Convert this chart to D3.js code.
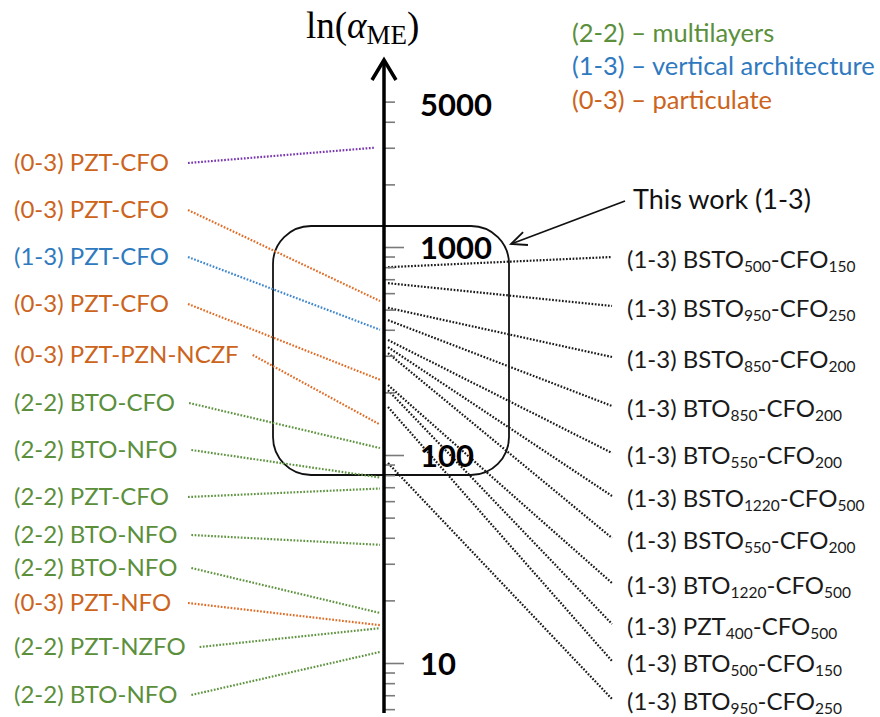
<!DOCTYPE html>
<html>
<head>
<meta charset="utf-8">
<script src="https://cdn.jsdelivr.net/npm/d3@7"></script>
<style>
  html, body { margin: 0; padding: 0; background: #fff; }
  svg { display: block; }
</style>
</head>
<body>
<svg id="chart" width="880" height="717"></svg>
<script>
// ---------------- DATA ----------------
const leftLabels = [
  "(0-3) PZT-CFO", "(0-3) PZT-CFO", "(1-3) PZT-CFO", "(0-3) PZT-CFO",
  "(0-3) PZT-PZN-NCZF", "(2-2) BTO-CFO", "(2-2) BTO-NFO", "(2-2) PZT-CFO",
  "(2-2) BTO-NFO", "(2-2) BTO-NFO", "(0-3) PZT-NFO", "(2-2) PZT-NZFO",
  "(2-2) BTO-NFO"
];
const leftTypes = ["0-3", "0-3", "1-3", "0-3", "0-3", "2-2", "2-2", "2-2", "2-2", "2-2", "0-3", "2-2", "2-2"];
const leftLineTypes = ["other", "0-3", "1-3", "0-3", "0-3", "2-2", "2-2", "2-2", "2-2", "2-2", "0-3", "2-2", "2-2"];
const leftValues = [3000, 550, 400, 230, 140, 108, 78, 69, 37, 17.4, 15.2, 14.7, 11.3];

const rightLabels = [
  "(1-3) BSTO_{500}-CFO_{150}", "(1-3) BSTO_{950}-CFO_{250}", "(1-3) BSTO_{850}-CFO_{200}",
  "(1-3) BTO_{850}-CFO_{200}", "(1-3) BTO_{550}-CFO_{200}", "(1-3) BSTO_{1220}-CFO_{500}",
  "(1-3) BSTO_{550}-CFO_{200}", "(1-3) BTO_{1220}-CFO_{500}", "(1-3) PZT_{400}-CFO_{500}",
  "(1-3) BTO_{500}-CFO_{150}", "(1-3) BTO_{950}-CFO_{250}"
];
const rightValues = [800, 670, 510, 445, 357, 330, 309, 217, 205, 170, 91.5];

const majorTicks = [10, 100, 1000];
const minorTicks = [6, 7, 8, 9, 20, 30, 40, 50, 60, 70, 80, 90,
                    200, 300, 400, 500, 600, 700, 800, 900, 2000, 3000, 4000, 5000];
const tickLabels = [10, 100, 1000, 5000];

const legendTypes = ["2-2", "1-3", "0-3"];
const legendTexts = ["(2-2) \u2013 multilayers", "(1-3) \u2013 vertical architecture", "(0-3) \u2013 particulate"];

// ---------------- LAYOUT / STYLE ----------------
const textColor = { "2-2": "#5b8f3b", "1-3": "#2f7abf", "0-3": "#cc6420" };
const lineColor = { "2-2": "#5e9440", "1-3": "#3f86cc", "0-3": "#e06c26", "other": "#7a35b0" };
const leftLabelY = [163, 210, 257, 304, 355, 403, 450, 497, 535, 568, 603, 647, 695];
const rightLabelY = [257, 306, 357, 406, 453, 496, 538, 583, 624, 661, 699];
const axisX = 384;
const font = "Lato, 'Open Sans', sans-serif";

const svg = d3.select("#chart");
const y = d3.scaleLog().domain([10, 1000]).range([663, 247]);

// Box ("This work")
svg.append("rect")
  .attr("x", 273).attr("y", 226).attr("width", 236).attr("height", 249)
  .attr("rx", 38).attr("ry", 38)
  .attr("fill", "none").attr("stroke", "#111").attr("stroke-width", 1.8);

// Left dotted lines + labels
const leftG = svg.append("g");
leftLabels.forEach((lab, i) => {
  const t = leftG.append("text")
    .attr("x", 14).attr("y", leftLabelY[i]).attr("dy", "0.35em")
    .attr("font-family", font).attr("font-size", 24)
    .attr("fill", textColor[leftTypes[i]])
    .text(lab);
  const end = 14 + t.node().getComputedTextLength();
  const x0 = Math.max(188, end + 14);
  leftG.append("line")
    .attr("x1", x0).attr("y1", leftLabelY[i])
    .attr("x2", leftLineTypes[i] === "other" ? 374 : 380).attr("y2", y(leftValues[i]))
    .attr("stroke", lineColor[leftLineTypes[i]])
    .attr("stroke-width", 2.2).attr("stroke-dasharray", "1.7,1.6");
});

// Right dotted lines + labels
const rightG = svg.append("g");
rightLabels.forEach((lab, i) => {
  rightG.append("line")
    .attr("x1", 388).attr("y1", y(rightValues[i]))
    .attr("x2", 612).attr("y2", rightLabelY[i])
    .attr("stroke", "#1a1a1a")
    .attr("stroke-width", 2.2).attr("stroke-dasharray", "1.7,1.6");
  const t = rightG.append("text")
    .attr("x", 627).attr("y", rightLabelY[i] + 3).attr("dy", "0.35em")
    .attr("font-family", font).attr("font-size", 24).attr("fill", "#1a1a1a");
  const parts = lab.split(/(_\{[^}]*\})/).filter(s => s.length);
  parts.forEach(p => {
    if (p.startsWith("_{")) {
      t.append("tspan").attr("font-size", 15.5).attr("dy", 4).text(p.slice(2, -1));
    } else {
      const ts = t.append("tspan").text(p);
      if (t.selectAll("tspan").size() > 1) ts.attr("dy", -4);
    }
  });
});

// Axis ticks
const minorAxis = d3.axisRight(y).tickValues(minorTicks).tickSize(11).tickFormat("");
const majorAxis = d3.axisRight(y).tickValues(majorTicks).tickSize(20).tickFormat("");
[minorAxis, majorAxis].forEach(ax => {
  const g = svg.append("g").attr("transform", `translate(${axisX},0)`).call(ax);
  g.select(".domain").remove();
  g.selectAll(".tick line").attr("stroke", "#7a7a7a").attr("stroke-width", 1.6);
});

// Axis line with arrow
svg.append("line")
  .attr("x1", axisX).attr("y1", 713).attr("x2", axisX).attr("y2", 60)
  .attr("stroke", "#000").attr("stroke-width", 3.5);
svg.append("path")
  .attr("d", `M${axisX - 12},80 L${axisX},60 L${axisX + 12},80`)
  .attr("fill", "none").attr("stroke", "#000").attr("stroke-width", 3.5)
  .attr("stroke-linejoin", "miter");

// Tick labels
svg.append("g").selectAll("text").data(tickLabels).join("text")
  .attr("x", 420).attr("y", d => y(d) + (d === 5000 ? 3 : 1)).attr("dy", "0.36em")
  .attr("font-family", font).attr("font-weight", "bold").attr("font-size", 31)
  .attr("fill", "#000")
  .text(d => d);

// Axis title ln(α_ME)
const title = svg.append("text")
  .attr("x", 306).attr("y", 38)
  .attr("font-family", "'Liberation Serif', 'DejaVu Serif', serif")
  .attr("font-size", 37).attr("fill", "#000");
title.append("tspan").text("ln(");
title.append("tspan").attr("font-style", "italic").text("\u03B1");
title.append("tspan").attr("font-size", 27).attr("dy", 6).text("ME");
title.append("tspan").attr("dy", -6).text(")");

// Legend
svg.append("g").selectAll("text").data(legendTexts).join("text")
  .attr("x", 572).attr("y", (d, i) => 33 + i * 33.5).attr("dy", "0.35em")
  .attr("font-family", font).attr("font-size", 25.5)
  .attr("fill", (d, i) => textColor[legendTypes[i]])
  .text(d => d);

// Annotation
svg.append("text")
  .attr("x", 633).attr("y", 200).attr("dy", "0.35em")
  .attr("font-family", font).attr("font-size", 27).attr("fill", "#111")
  .text("This work (1-3)");
const ax0 = 625, ay0 = 201, ax1 = 511, ay1 = 244;
svg.append("line")
  .attr("x1", ax0).attr("y1", ay0).attr("x2", ax1).attr("y2", ay1)
  .attr("stroke", "#111").attr("stroke-width", 1.8);
const ang = Math.atan2(ay0 - ay1, ax0 - ax1);
const hl = 17, spread = 0.42;
svg.append("path")
  .attr("d", `M${ax1 + hl * Math.cos(ang - spread)},${ay1 + hl * Math.sin(ang - spread)} L${ax1},${ay1} L${ax1 + hl * Math.cos(ang + spread)},${ay1 + hl * Math.sin(ang + spread)}`)
  .attr("fill", "none").attr("stroke", "#111").attr("stroke-width", 1.8);
</script>
</body>
</html>
